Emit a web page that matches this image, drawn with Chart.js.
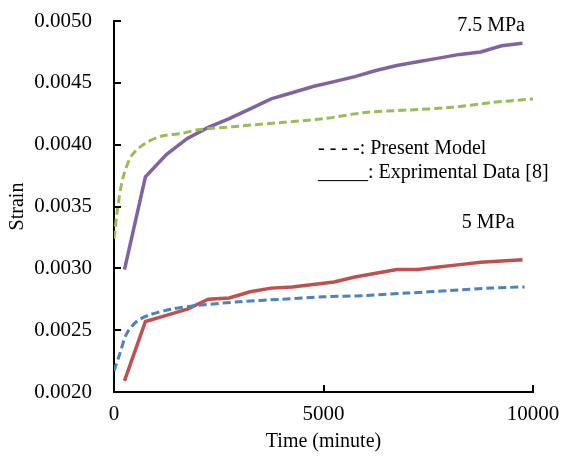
<!DOCTYPE html>
<html>
<head>
<meta charset="utf-8">
<script src="https://cdn.jsdelivr.net/npm/chart.js@4/dist/chart.umd.min.js"></script>
<style>
  html, body { margin: 0; padding: 0; background: #fff; }
  #wrap { width: 565px; height: 460px; }
</style>
</head>
<body>
<div id="wrap"><canvas id="strain-chart" width="565" height="460"></canvas></div>
<script>
// experimental data (solid lines)
const expTime = [250, 750, 1250, 1750, 2250, 2750, 3250, 3750, 4250, 4750, 5250, 5750, 6250, 6750, 7250, 7750, 8250, 8750, 9250, 9750];
const exp75 = [0.00299, 0.00374, 0.00392, 0.00405, 0.00414, 0.00421, 0.00429, 0.00437, 0.00442, 0.00447, 0.00451, 0.00455, 0.00460, 0.00464, 0.00467, 0.00470, 0.00473, 0.00475, 0.00480, 0.00482];
const exp5 = [0.00209, 0.00257, 0.00262, 0.00267, 0.00275, 0.00276, 0.00281, 0.00284, 0.00285, 0.00287, 0.00289, 0.00293, 0.00296, 0.00299, 0.00299, 0.00301, 0.00303, 0.00305, 0.00306, 0.00307];

// present model (dashed lines)
const modelTime = [0, 100, 220, 420, 740, 1140, 1600, 2000, 3000, 4000, 5000, 6000, 7000, 8000, 9000, 10000];
const model75 = [0.00324, 0.00352, 0.00374, 0.00391, 0.00401, 0.00407, 0.00409, 0.00412, 0.00415, 0.00418, 0.00421, 0.00426, 0.00428, 0.00430, 0.00434, 0.00437];
const modelTime5 = [0, 140, 300, 540, 820, 1380, 2000, 3000, 4000, 5000, 6000, 7000, 8000, 9000, 9800];
const model5 = [0.00217, 0.00231, 0.00247, 0.00257, 0.00262, 0.00267, 0.00270, 0.00273, 0.00275, 0.00277, 0.00278, 0.00280, 0.00282, 0.00284, 0.00285];

const yTicks = [0.0020, 0.0025, 0.0030, 0.0035, 0.0040, 0.0045, 0.0050];
const xTicks = [0, 5000, 10000];

const serif = "'Liberation Serif', 'Times New Roman', serif";

function pairs(xs, ys) {
    return xs.map((x, i) => ({ x: x, y: ys[i] }));
}

// small inside tick marks + text labels
const extras = {
    id: 'extras',
    afterDraw(chart) {
        const ctx = chart.ctx;
        const xs = chart.scales.x;
        const ys = chart.scales.y;
        ctx.save();
        ctx.strokeStyle = '#000';
        ctx.lineWidth = 2;
        yTicks.forEach(v => {
            const py = Math.round(ys.getPixelForValue(v));
            ctx.beginPath();
            ctx.moveTo(xs.left, py);
            ctx.lineTo(xs.left + 7, py);
            ctx.stroke();
        });
        xTicks.forEach(v => {
            const px = Math.round(xs.getPixelForValue(v));
            ctx.beginPath();
            ctx.moveTo(px, ys.bottom);
            ctx.lineTo(px, ys.bottom - 7);
            ctx.stroke();
        });

        ctx.fillStyle = '#000';
        ctx.font = '20px ' + serif;
        ctx.textBaseline = 'middle';
        ctx.textAlign = 'left';
        ctx.fillText('7.5 MPa', xs.getPixelForValue(8190), ys.getPixelForValue(0.004965));
        ctx.fillText('5 MPa', xs.getPixelForValue(8300), ys.getPixelForValue(0.00337));
        ctx.fillText('- - - -: Present Model', xs.getPixelForValue(4870), ys.getPixelForValue(0.00397));
        ctx.fillText('_____: Exprimental Data [8]', xs.getPixelForValue(4870), ys.getPixelForValue(0.00377));
        ctx.restore();
    }
};

const ctx = document.querySelector('#strain-chart').getContext('2d');
const myChart = new Chart(ctx, {
    type: 'scatter',
    data: {
        datasets: [
            { label: 'Present Model 7.5 MPa', data: pairs(modelTime, model75), borderColor: '#9BBB59', borderWidth: 3, borderDash: [8, 4], showLine: true, pointRadius: 0, tension: 0.3 },
            { label: 'Present Model 5 MPa', data: pairs(modelTime5, model5), borderColor: '#4F81BD', borderWidth: 3, borderDash: [8, 4], showLine: true, pointRadius: 0, tension: 0.3 },
            { label: 'Exp 7.5 MPa', data: pairs(expTime, exp75), borderColor: '#8064A2', borderWidth: 3.5, showLine: true, pointRadius: 0 },
            { label: 'Exp 5 MPa', data: pairs(expTime, exp5), borderColor: '#C0504D', borderWidth: 3.5, showLine: true, pointRadius: 0 }
        ]
    },
    options: {
        responsive: false,
        animation: false,
        events: [],
        layout: { padding: { top: 21, right: 32, left: 0, bottom: 0 } },
        plugins: { legend: { display: false }, tooltip: { enabled: false } },
        scales: {
            x: {
                type: 'linear',
                min: 0,
                max: 10000,
                afterBuildTicks: s => { s.ticks = xTicks.map(v => ({ value: v })); },
                afterFit: s => { s.height = 68; s.paddingLeft = 0; s.paddingRight = 0; },
                grid: { display: false, drawTicks: false },
                border: { display: true, color: '#000', width: 2 },
                ticks: { color: '#000', font: { family: serif, size: 21 }, padding: 10, maxRotation: 0, callback: v => String(v) },
                title: { display: true, text: 'Time (minute)', color: '#000', font: { family: serif, size: 20 }, padding: { top: 0, bottom: 6 } }
            },
            y: {
                type: 'linear',
                min: 0.002,
                max: 0.005,
                afterBuildTicks: s => { s.ticks = yTicks.map(v => ({ value: v })); },
                afterFit: s => { s.width = 114; s.paddingTop = 0; s.paddingBottom = 0; },
                grid: { display: false, drawTicks: false },
                border: { display: true, color: '#000', width: 2 },
                ticks: { color: '#000', font: { family: serif, size: 21 }, padding: 22, callback: v => v.toFixed(4) },
                title: { display: true, text: 'Strain', color: '#000', font: { family: serif, size: 20 }, padding: { top: 6, bottom: 0 } }
            }
        }
    },
    plugins: [extras]
});
</script>
</body>
</html>
